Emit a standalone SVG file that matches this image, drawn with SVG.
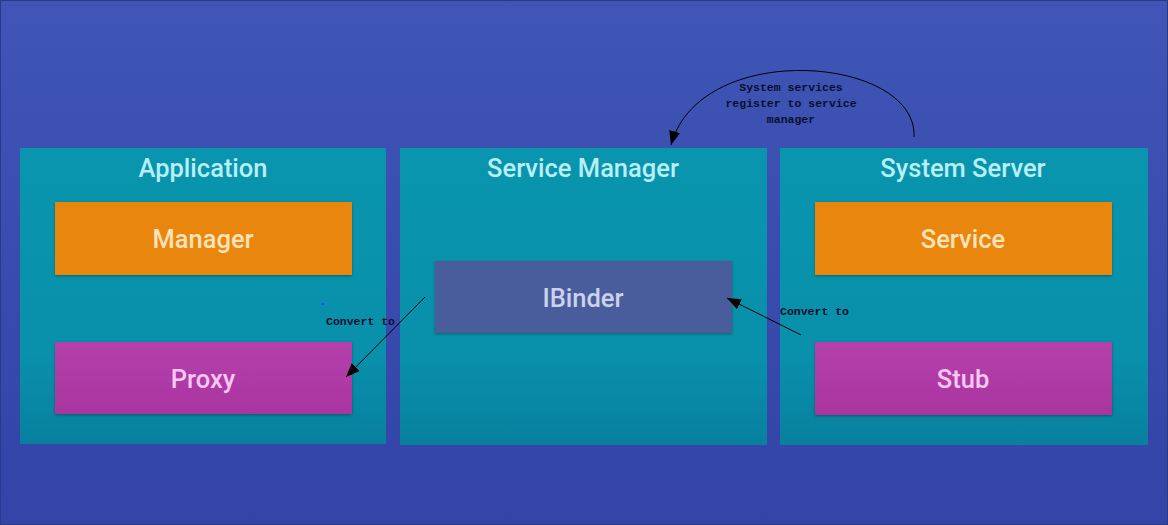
<svg xmlns="http://www.w3.org/2000/svg" width="1168" height="525" viewBox="0 0 1168 525">
<defs>
<linearGradient id="bg" x1="0" y1="0" x2="0" y2="1">
<stop offset="0" stop-color="#3f56b6"/>
<stop offset="1" stop-color="#3343a6"/>
</linearGradient>
<linearGradient id="panel" x1="0" y1="0" x2="0" y2="1">
<stop offset="0" stop-color="#0995ad"/>
<stop offset="0.7" stop-color="#0990ab"/>
<stop offset="1" stop-color="#08809e"/>
</linearGradient>
<linearGradient id="mag" x1="0" y1="0" x2="0" y2="1">
<stop offset="0" stop-color="#b440ac"/>
<stop offset="1" stop-color="#aa35a0"/>
</linearGradient>
<marker id="arr" viewBox="0 0 10 10" refX="10" refY="5" markerWidth="14" markerHeight="14" markerUnits="userSpaceOnUse" orient="auto">
<path d="M0,1 L10,5 L0,9 Z" fill="#000"/>
</marker>
<filter id="sh" x="-5%" y="-10%" width="110%" height="125%">
<feGaussianBlur in="SourceAlpha" stdDeviation="1.5"/>
<feOffset dy="1"/>
<feComponentTransfer><feFuncA type="linear" slope="0.35"/></feComponentTransfer>
<feMerge><feMergeNode/><feMergeNode in="SourceGraphic"/></feMerge>
</filter>
</defs>
<style>
.panel{fill:url(#panel)}
.title{font-family:Roboto,"Noto Sans",sans-serif;font-size:25.5px;font-weight:500;fill:#b8eef5;text-anchor:middle}
.lbl{font-family:Roboto,"Noto Sans",sans-serif;font-size:25.5px;font-weight:500;text-anchor:middle}
.orange{fill:#e8860a}
.note{font-family:"Liberation Mono",monospace;font-size:11.5px;font-weight:bold;fill:#0a0f2a}
.conn{fill:none;stroke:#000;stroke-width:1}
</style>
<rect x="0" y="0" width="1168" height="525" fill="url(#bg)"/>
<rect x="0.5" y="0.5" width="1167" height="524" fill="none" stroke="#2a3a8a" stroke-width="1"/>

<g id="application">
<rect class="panel" x="20" y="148" width="366" height="296"/>
<text class="title" x="203" y="177">Application</text>
</g>
<g id="manager">
<rect class="orange" x="55" y="202" width="297" height="73" filter="url(#sh)"/>
<text class="lbl" x="203" y="248" fill="#ffe2b8">Manager</text>
</g>
<g id="proxy">
<rect x="55" y="342" width="297" height="72" fill="url(#mag)" filter="url(#sh)"/>
<text class="lbl" x="203" y="388" fill="#f9c8f2">Proxy</text>
</g>

<g id="service-manager">
<rect class="panel" x="400" y="148" width="367" height="297"/>
<text class="title" x="583" y="177">Service Manager</text>
</g>
<g id="ibinder">
<rect x="435" y="261" width="297" height="72" fill="#4a5b9c" filter="url(#sh)"/>
<text class="lbl" x="583" y="307" fill="#ccd2ea">IBinder</text>
</g>

<g id="system-server">
<rect class="panel" x="780" y="148" width="368" height="297"/>
<text class="title" x="963" y="177">System Server</text>
</g>
<g id="service">
<rect class="orange" x="815" y="202" width="297" height="73" filter="url(#sh)"/>
<text class="lbl" x="963" y="248" fill="#ffe2b8">Service</text>
</g>
<g id="stub">
<rect x="815" y="342" width="297" height="73" fill="url(#mag)" filter="url(#sh)"/>
<text class="lbl" x="963" y="388" fill="#f9c8f2">Stub</text>
</g>

<g id="connectors">
<path class="conn" d="M914,137 C918,56 700,38 671,145" marker-end="url(#arr)"/>
<line class="conn" x1="425" y1="297" x2="346" y2="377" marker-end="url(#arr)"/>
<line class="conn" x1="801" y1="335" x2="727" y2="298" marker-end="url(#arr)"/>
<text class="note" x="791" y="91" text-anchor="middle">System services</text>
<text class="note" x="791" y="107" text-anchor="middle">register to service</text>
<text class="note" x="791" y="123" text-anchor="middle">manager</text>
<text class="note" x="326" y="325">Convert to</text>
<text class="note" x="780" y="315">Convert to</text>
<rect x="322" y="303" width="2" height="2" fill="#2a3aff"/>
</g>
</svg>
